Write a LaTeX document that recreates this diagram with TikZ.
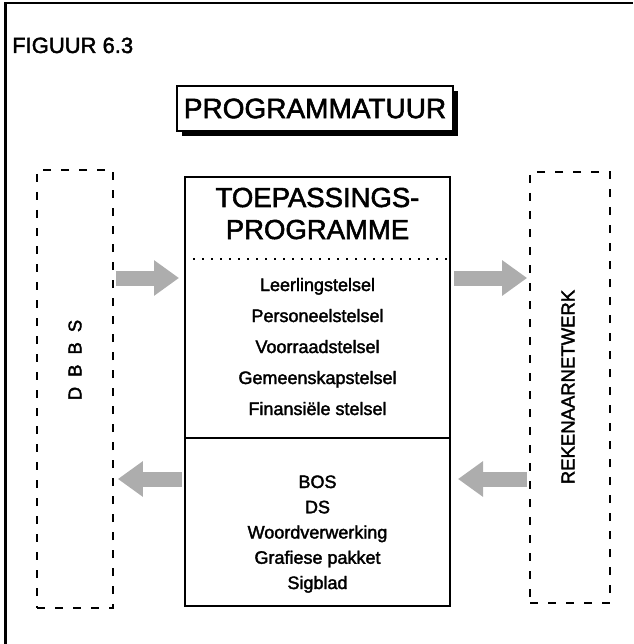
\documentclass[tikz,border=0pt]{standalone}
\usepackage{fontspec}
\setmainfont{Liberation Sans}[FakeBold=2]
\usetikzlibrary{arrows.meta,shadows}
\begin{document}
\begin{tikzpicture}[x=1pt,y=-1pt,
  item/.style={font=\fontsize{18}{20}\selectfont, inner sep=0pt, anchor=base},
  head/.style={font=\fontsize{27.5}{30}\selectfont, inner sep=0pt, anchor=base},
  dashbox/.style={draw, line width=1.8pt, dash pattern=on 8pt off 10pt, inner sep=0pt},
  sidelabel/.style={rotate=90, inner sep=0pt, font=\fontsize{18.5}{22}\selectfont},
  flow/.style={line width=15pt, draw=black!32, -{Triangle[length=25pt,width=34pt]}},
]
\useasboundingbox (0,0) rectangle (633,644);

% page frame (top and left edge)
\draw[line width=3pt] (5,644) -- (5,2.5);
\draw[line width=2pt] (4,3) -- (633,3);

% figure caption
\node[anchor=base west, inner sep=0pt, font=\fontsize{22}{24}\selectfont] (fig) at (12,53) {FIGUUR 6.3};

% title box with drop shadow
\node[draw, fill=white, line width=1.5pt, minimum width=276pt, minimum height=45pt,
      font=\fontsize{28}{30}\selectfont,
      drop shadow={shadow xshift=5pt, shadow yshift=-5pt, fill=black, opacity=1}]
      (prog) at (315,108.5) {PROGRAMMATUUR};

% side boxes
\node[dashbox, minimum width=76pt, minimum height=438pt] (dbbs) at (75,389) {};
\node[sidelabel] (dbbslbl) at (75,360) {D\hspace{10pt}B\hspace{10pt}B\hspace{10pt}S};
\node[dashbox, minimum width=80pt, minimum height=431pt] (net) at (570,387.5) {};
\node[sidelabel] (netlbl) at (568,387) {REKENAARNETWERK};

% central box
\node[draw, line width=2pt, minimum width=265pt, minimum height=429pt, inner sep=0pt] (main) at (317.5,391.5) {};
\node[head] (t1) at (317.5,207) {TOEPASSINGS-};
\node[head] (t2) at (317.5,239) {PROGRAMME};

\coordinate (dl) at (0,259);
\coordinate (dv) at (0,438);
\draw[line width=1.6pt, dash pattern=on 1.6pt off 7.4pt] (main.west |- dl) -- (main.east |- dl);
\draw[line width=1.6pt] (main.west |- dv) -- (main.east |- dv);

\node[item] (a1) at (317.5,291) {Leerlingstelsel};
\node[item] (a2) at (317.5,322) {Personeelstelsel};
\node[item] (a3) at (317.5,353) {Voorraadstelsel};
\node[item] (a4) at (317.5,384) {Gemeenskapstelsel};
\node[item] (a5) at (317.5,415) {Finansiële stelsel};

\node[item] (b1) at (317.5,488) {BOS};
\node[item] (b2) at (317.5,513.25) {DS};
\node[item] (b3) at (317.5,538.5) {Woordverwerking};
\node[item] (b4) at (317.5,563.75) {Grafiese pakket};
\node[item] (b5) at (317.5,589) {Sigblad};

% data flows
\coordinate (ytop) at (0,278);
\coordinate (ybot) at (0,479);
\draw[flow, shorten <=2pt, shorten >=5pt] (dbbs.east |- ytop) -- (main.west |- ytop);
\draw[flow, shorten <=3pt, shorten >=2pt] (main.east |- ytop) -- (net.west |- ytop);
\draw[flow, shorten <=2pt, shorten >=4pt] (main.west |- ybot) -- (dbbs.east |- ybot);
\draw[flow, shorten <=2pt, shorten >=7pt] (net.west |- ybot) -- (main.east |- ybot);
\end{tikzpicture}
\end{document}
